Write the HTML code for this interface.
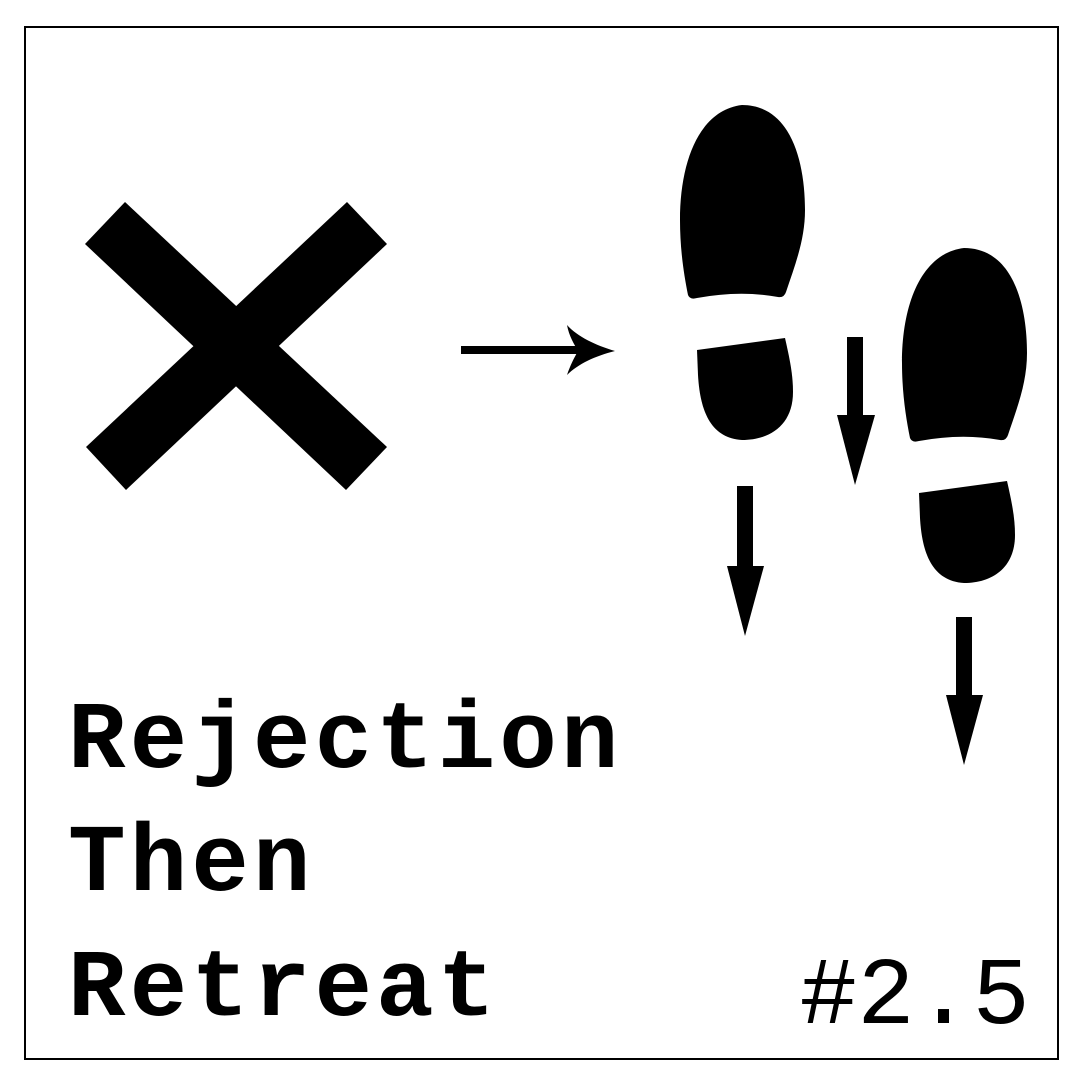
<!DOCTYPE html>
<html><head><meta charset="utf-8"><style>
html,body{margin:0;padding:0;background:#fff;}
svg{display:block;}
text{font-family:"Liberation Mono","DejaVu Sans Mono",monospace;font-weight:bold;fill:#000;}
</style></head><body>
<svg width="1080" height="1080" viewBox="0 0 1080 1080">
<rect x="25" y="27" width="1033" height="1032" fill="#fff" stroke="#000" stroke-width="2"/>
<g>
<polygon points="125,202 387,447 346,490 85,244" fill="#000"/>
<polygon points="347,202 387,244 126,490 86,447" fill="#000"/>
</g>
<g>
<rect x="461" y="346" width="118" height="8" fill="#000"/>
<path d="M615,351 C595,356 578,364 567,375 C570,366 574,358 578,351 C574,344 569,336 567,325 C578,337 595,345 615,351 Z" fill="#000"/>
</g>
<g id="shoe">
<path d="M742,105 C700,110 680,160 680,220 C680,250 684,275 688,295 Q690,300 697,298 Q740,290 778,297 Q784,298 786,292 C795,265 805,240 805,210 C805,160 790,105 742,105 Z" fill="#000"/>
<path d="M697,350 L785,338 C790,360 793,375 793,392 C793,425 770,440 742,440 C710,438 700,410 698,375 Z" fill="#000"/>
</g>
<g transform="translate(222,143)">
<path d="M742,105 C700,110 680,160 680,220 C680,250 684,275 688,295 Q690,300 697,298 Q740,290 778,297 Q784,298 786,292 C795,265 805,240 805,210 C805,160 790,105 742,105 Z" fill="#000"/>
<path d="M697,350 L785,338 C790,360 793,375 793,392 C793,425 770,440 742,440 C710,438 700,410 698,375 Z" fill="#000"/>
</g>
<g>
<rect x="737" y="486" width="16" height="81" fill="#000"/>
<polygon points="727,566 764,566 745,636" fill="#000"/>
</g>
<g>
<rect x="847" y="337" width="16" height="79" fill="#000"/>
<polygon points="837,415 875,415 855,485" fill="#000"/>
</g>
<g>
<rect x="956" y="617" width="16" height="79" fill="#000"/>
<polygon points="946,695 983,695 964,765" fill="#000"/>
</g>
<text x="68" y="767" font-size="96" letter-spacing="4">Rejection</text>
<text x="68" y="890" font-size="96" letter-spacing="4">Then</text>
<text x="68" y="1015" font-size="96" letter-spacing="4">Retreat</text>
<text x="1030" y="1023" font-size="96" text-anchor="end" style="font-weight:normal">#2.5</text>
</svg>
</body></html>
